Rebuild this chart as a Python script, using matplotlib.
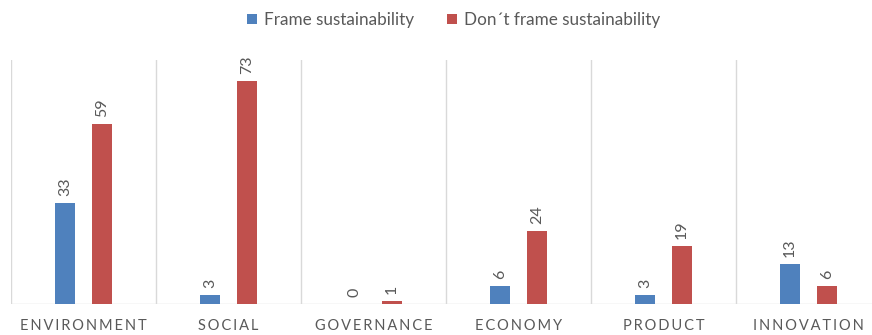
import matplotlib.pyplot as plt
import numpy as np

categories = ['ENVIRONMENT', 'SOCIAL', 'GOVERNANCE', 'ECONOMY', 'PRODUCT', 'INNOVATION']
frame = [33, 3, 0, 6, 3, 13]
dont_frame = [59, 73, 1, 24, 19, 6]
series_names = ['Frame sustainability', 'Don\u00b4t frame sustainability']

plt.rcParams['font.family'] = ['Lato', 'DejaVu Sans']
grey = '#595959'

fig = plt.figure(figsize=(8.72, 3.35), dpi=100)
ax = fig.add_axes([11 / 872, 31 / 335, 870 / 872, 244 / 335])

x = np.arange(len(categories))
w = 0.138
b1 = ax.bar(x - 0.128, frame, w, color='#4f81bd', label=series_names[0], zorder=2)
b2 = ax.bar(x + 0.128, dont_frame, w, color='#c0504d', label=series_names[1], zorder=2)

for bars in (b1, b2):
    for r in bars:
        ax.annotate(str(int(r.get_height())), (r.get_x() + r.get_width() / 2, r.get_height()),
                    xytext=(0, 5), textcoords='offset points', rotation=90,
                    ha='center', va='bottom', fontsize=11.5, color=grey)

# separators between categories
for s in np.arange(len(categories) + 1) - 0.5:
    ax.axvline(s, color='#d9d9d9', lw=1, zorder=1)
ax.axhline(0, color='#d9d9d9', lw=1, zorder=1)

ax.set_xlim(-0.5, len(categories) - 0.5)
ax.set_ylim(0, 80)
ax.set_yticks([])
ax.set_xticks(x)
ax.set_xticklabels(['\u2009'.join(c) for c in categories], fontsize=10.5, color=grey)
ax.tick_params(axis='x', length=0, pad=11)
for sp in ax.spines.values():
    sp.set_visible(False)

fig.legend(loc='upper center', bbox_to_anchor=(0.52, 1.01), ncol=2, frameon=False,
           fontsize=12.3, labelcolor=grey, handlelength=0.6, handleheight=0.6,
           handletextpad=0.4, columnspacing=1.9)

fig.savefig('out.png', dpi=100)
